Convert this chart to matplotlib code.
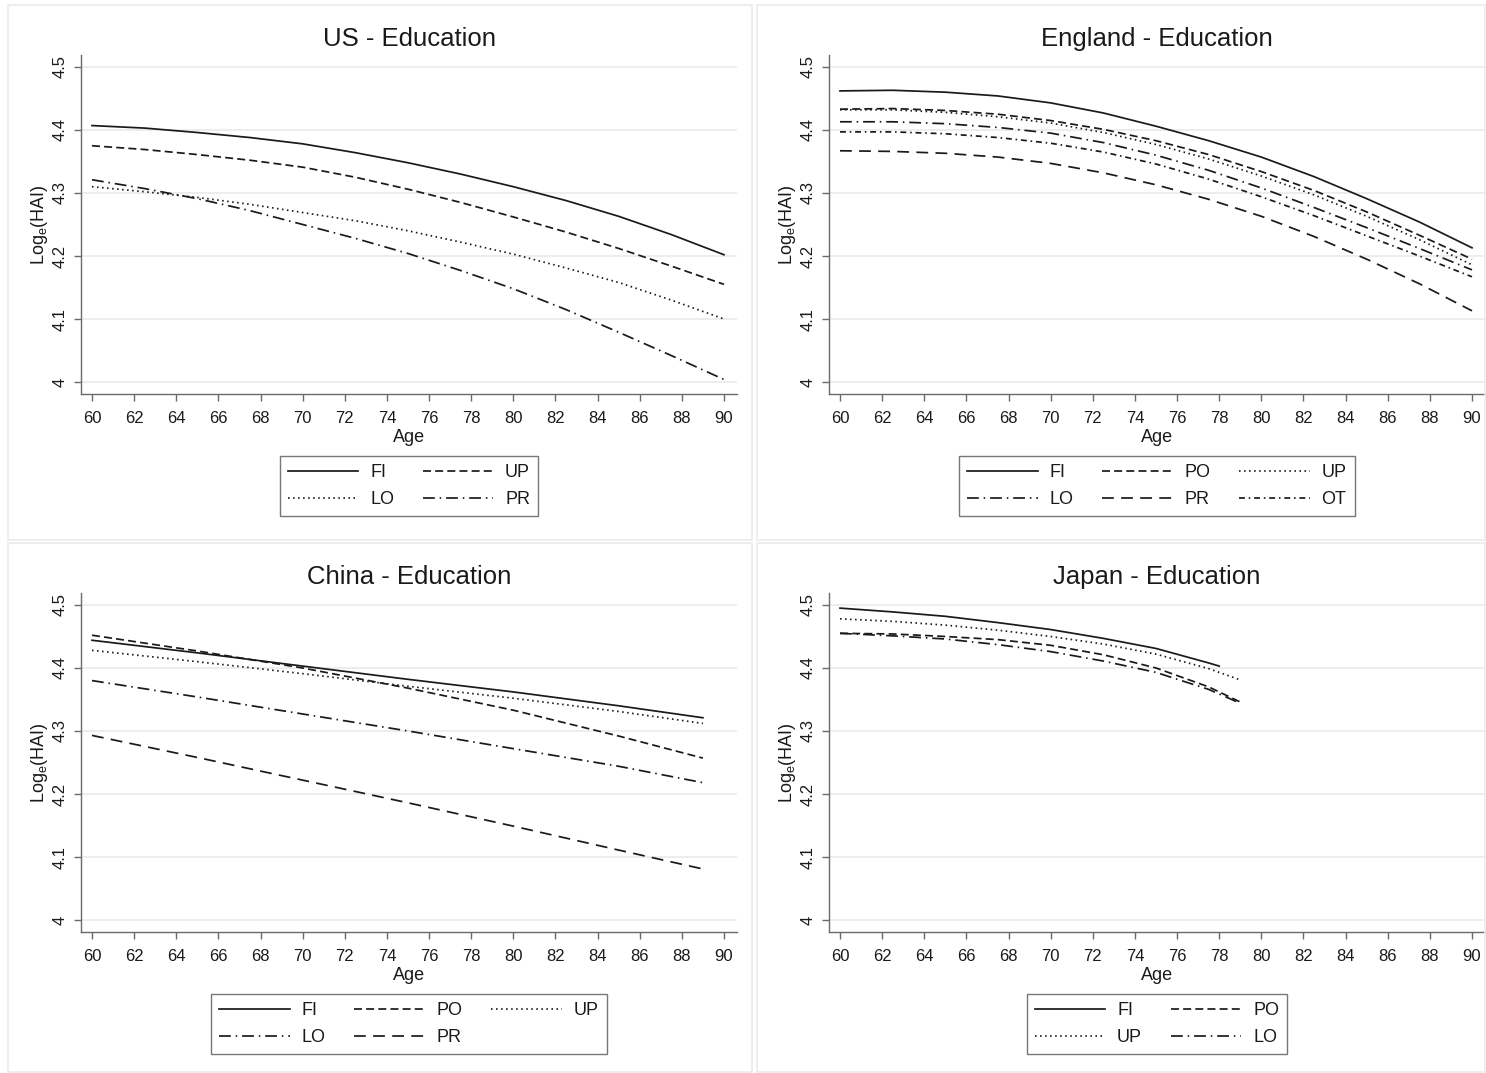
import matplotlib
matplotlib.use("Agg")
import matplotlib.pyplot as plt
from matplotlib.patches import Rectangle

plt.rcParams["font.family"] = ["Liberation Sans", "DejaVu Sans"]
plt.rcParams["mathtext.fontset"] = "dejavusans"

# ---- data: predicted log(HAI) by age and education group ----
us_age = [60, 62.5, 65, 67.5, 70, 72.5, 75, 77.5, 80, 82.5, 85, 87.5, 90]
us_fi = [4.407, 4.403, 4.396, 4.388, 4.378, 4.364, 4.348, 4.330, 4.310, 4.288, 4.263, 4.234, 4.202]
us_up = [4.375, 4.369, 4.361, 4.352, 4.341, 4.325, 4.306, 4.285, 4.262, 4.238, 4.212, 4.184, 4.155]
us_lo = [4.310, 4.302, 4.293, 4.282, 4.269, 4.256, 4.240, 4.222, 4.203, 4.181, 4.158, 4.130, 4.100]
us_pr = [4.321, 4.307, 4.291, 4.272, 4.250, 4.228, 4.204, 4.177, 4.148, 4.115, 4.079, 4.042, 4.004]

en_age = [60, 62.5, 65, 67.5, 70, 72.5, 75, 77.5, 80, 82.5, 85, 87.5, 90]
en_fi = [4.462, 4.463, 4.460, 4.454, 4.443, 4.427, 4.406, 4.383, 4.357, 4.326, 4.291, 4.254, 4.213]
en_po = [4.433, 4.434, 4.431, 4.425, 4.415, 4.401, 4.383, 4.361, 4.334, 4.304, 4.270, 4.233, 4.195]
en_up = [4.432, 4.432, 4.428, 4.421, 4.411, 4.396, 4.377, 4.354, 4.327, 4.297, 4.263, 4.226, 4.186]
en_lo = [4.413, 4.413, 4.410, 4.404, 4.395, 4.380, 4.360, 4.336, 4.308, 4.277, 4.245, 4.212, 4.178]
en_pr = [4.367, 4.366, 4.363, 4.357, 4.347, 4.332, 4.313, 4.290, 4.263, 4.231, 4.195, 4.156, 4.113]
en_ot = [4.397, 4.397, 4.394, 4.388, 4.379, 4.365, 4.346, 4.322, 4.294, 4.264, 4.232, 4.200, 4.167]

cn_age = [60, 65, 70, 75, 80, 85, 89]
cn_fi = [4.444, 4.424, 4.403, 4.382, 4.362, 4.340, 4.321]
cn_po = [4.452, 4.427, 4.400, 4.368, 4.333, 4.292, 4.257]
cn_up = [4.428, 4.410, 4.391, 4.371, 4.352, 4.331, 4.312]
cn_lo = [4.380, 4.354, 4.327, 4.300, 4.272, 4.244, 4.218]
cn_pr = [4.293, 4.258, 4.222, 4.186, 4.149, 4.111, 4.081]

jp_age_fi = [60, 62.5, 65, 67.5, 70, 72.5, 75, 77.5, 78]
jp_age = [60, 62.5, 65, 67.5, 70, 72.5, 75, 77.5, 79]
jp_fi = [4.495, 4.489, 4.482, 4.472, 4.461, 4.447, 4.431, 4.408, 4.403]
jp_up = [4.478, 4.474, 4.468, 4.460, 4.450, 4.438, 4.422, 4.399, 4.381]
jp_po = [4.455, 4.454, 4.450, 4.445, 4.436, 4.421, 4.400, 4.370, 4.346]
jp_lo = [4.455, 4.451, 4.446, 4.437, 4.426, 4.411, 4.393, 4.366, 4.344]

x_ticks = list(range(60, 91, 2))
y_ticks = [4.0, 4.1, 4.2, 4.3, 4.4, 4.5]
y_ticklabels = ["4", "4.1", "4.2", "4.3", "4.4", "4.5"]

# ---- line patterns ----
STYLES = {
    "solid": "-",
    "dash": (0, (4.6, 2.4)),
    "dot": (0, (0.9, 2.0)),
    "longdashdot": (0, (6.8, 2.8, 0.9, 2.8)),
    "longdash": (0, (6.8, 4.2)),
    "shortdashdot": (0, (3.4, 2.2, 0.9, 2.2)),
}
LINE_COLOR = "#1a1a1a"
LW = 1.25

W, H = 1486, 1073
fig = plt.figure(figsize=(W / 100, H / 100), dpi=100)
fig.patch.set_facecolor("white")

# faint frames around each sub-graph
for (x0, y0, x1, y1) in [(8, 5, 752, 540), (757, 5, 1485, 540),
                         (8, 543, 752, 1072), (757, 543, 1485, 1072)]:
    fig.add_artist(Rectangle((x0 / W, 1 - y1 / H), (x1 - x0) / W, (y1 - y0) / H,
                             transform=fig.transFigure, fill=False,
                             edgecolor="#ebebeb", linewidth=1.2))


def make_axes(left, top, right, bottom):
    return fig.add_axes([left / W, 1 - bottom / H, (right - left) / W, (bottom - top) / H])


def style_axes(ax, title):
    ax.set_xlim(60 - 11 / 21.07, 90 + 13 / 21.07)
    ax.set_ylim(3.981, 4.519)
    ax.set_xticks(x_ticks)
    ax.set_yticks(y_ticks)
    ax.set_yticklabels(y_ticklabels)
    ax.grid(axis="y", color="#ececec", linewidth=1.3)
    ax.set_axisbelow(True)
    for s in ["top", "right"]:
        ax.spines[s].set_visible(False)
    for s in ["left", "bottom"]:
        ax.spines[s].set_color("#6a6a6a")
        ax.spines[s].set_linewidth(1.0)
    ax.tick_params(axis="both", colors="#6a6a6a", labelcolor="#1a1a1a",
                   length=5, width=1.0, labelsize=12)
    ax.tick_params(axis="x", pad=7)
    ax.tick_params(axis="y", pad=4.5)
    for lab in ax.get_yticklabels():
        lab.set_rotation(90)
        lab.set_va("center")
        lab.set_ha("right")
    ax.text(0.5, 1 + 16 / 339, title, transform=ax.transAxes,
            ha="center", va="center", fontsize=18.5, color="#1a1a1a")
    ax.text(0.5, -43 / 339, "Age", transform=ax.transAxes,
            ha="center", va="center", fontsize=13, color="#1a1a1a")
    ax.text(-41 / 656, 0.5, r"Log$_{\mathregular{e}}$(HAI)", transform=ax.transAxes,
            ha="center", va="center", rotation=90, fontsize=13, color="#1a1a1a")


def draw(ax, series, order, ncol):
    handles = {}
    for label, ages, vals, style in series:
        h, = ax.plot(ages, vals, color=LINE_COLOR, linewidth=LW,
                     linestyle=STYLES[style], label=label)
        handles[label] = h
    hs = [handles[k] for k in order]
    leg = ax.legend(hs, order, loc="upper center", bbox_to_anchor=(0.5, -53 / 339),
                    ncol=ncol, frameon=True, fancybox=False, fontsize=13,
                    handlelength=3.9, handletextpad=0.65, columnspacing=1.6,
                    labelspacing=0.55, borderpad=0.45, edgecolor="#555555")
    leg.get_frame().set_linewidth(1.0)
    for t in leg.get_texts():
        t.set_color("#1a1a1a")


ax_us = make_axes(81, 55, 737, 394)
style_axes(ax_us, "US - Education")
draw(ax_us, [("FI", us_age, us_fi, "solid"),
             ("UP", us_age, us_up, "dash"),
             ("LO", us_age, us_lo, "dot"),
             ("PR", us_age, us_pr, "longdashdot")],
     ["FI", "LO", "UP", "PR"], 2)

ax_en = make_axes(829, 55, 1485, 394)
style_axes(ax_en, "England - Education")
draw(ax_en, [("FI", en_age, en_fi, "solid"),
             ("PO", en_age, en_po, "dash"),
             ("UP", en_age, en_up, "dot"),
             ("LO", en_age, en_lo, "longdashdot"),
             ("PR", en_age, en_pr, "longdash"),
             ("OT", en_age, en_ot, "shortdashdot")],
     ["FI", "LO", "PO", "PR", "UP", "OT"], 3)

ax_cn = make_axes(81, 593, 737, 932)
style_axes(ax_cn, "China - Education")
draw(ax_cn, [("FI", cn_age, cn_fi, "solid"),
             ("PO", cn_age, cn_po, "dash"),
             ("UP", cn_age, cn_up, "dot"),
             ("LO", cn_age, cn_lo, "longdashdot"),
             ("PR", cn_age, cn_pr, "longdash")],
     ["FI", "LO", "PO", "PR", "UP"], 3)

ax_jp = make_axes(829, 593, 1485, 932)
style_axes(ax_jp, "Japan - Education")
draw(ax_jp, [("FI", jp_age_fi, jp_fi, "solid"),
             ("PO", jp_age, jp_po, "dash"),
             ("UP", jp_age, jp_up, "dot"),
             ("LO", jp_age, jp_lo, "longdashdot")],
     ["FI", "UP", "PO", "LO"], 2)

fig.savefig("out.png", dpi=100, facecolor="white")
